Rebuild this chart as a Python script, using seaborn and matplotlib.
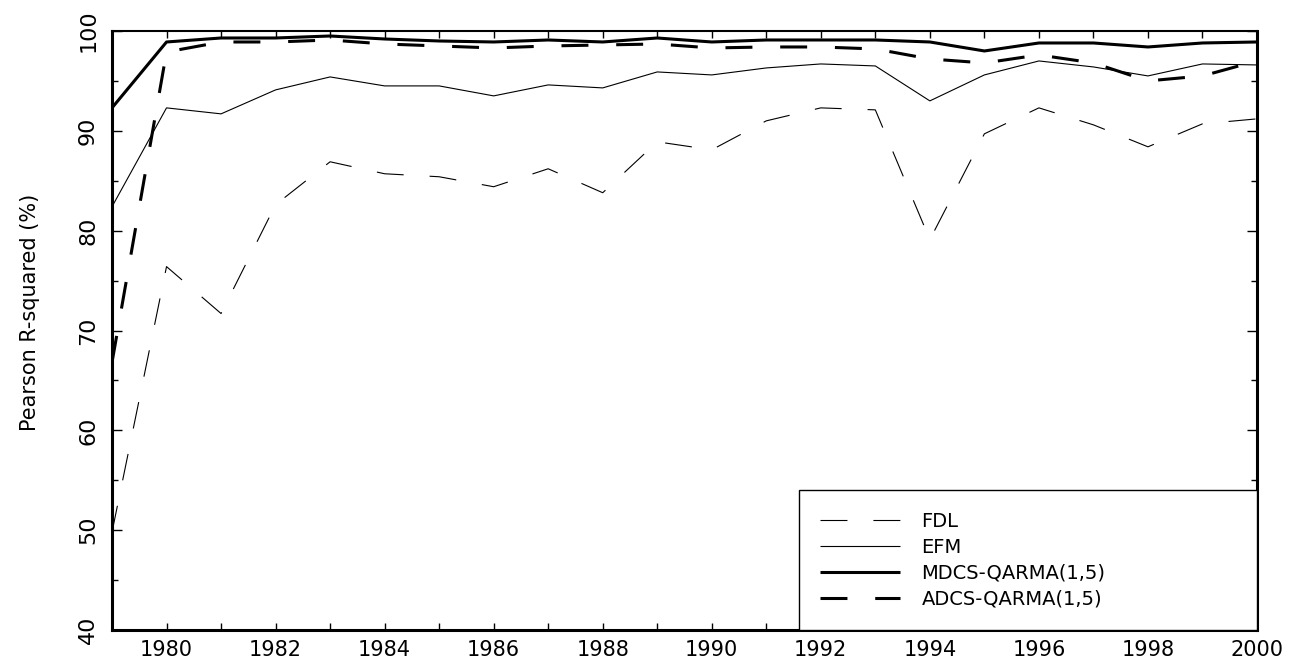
import matplotlib
matplotlib.use("Agg")
import matplotlib.pyplot as plt
import pandas as pd
import seaborn as sns
from matplotlib.ticker import MultipleLocator

years = list(range(1979, 2001))
fdl = [49.8, 76.4, 71.7, 82.6, 86.9, 85.7, 85.4, 84.4, 86.2, 83.8, 88.9,
       88.1, 91.0, 92.3, 92.1, 79.1, 89.7, 92.3, 90.6, 88.4, 90.7, 91.2]
efm = [82.4, 92.3, 91.7, 94.1, 95.4, 94.5, 94.5, 93.5, 94.6, 94.3, 95.9,
       95.6, 96.3, 96.7, 96.5, 93.0, 95.6, 97.0, 96.4, 95.5, 96.7, 96.6]
mdcs = [92.3, 98.9, 99.3, 99.3, 99.5, 99.2, 99.0, 98.9, 99.1, 98.9, 99.3,
        98.9, 99.1, 99.1, 99.1, 98.9, 98.0, 98.8, 98.8, 98.4, 98.8, 98.9]
adcs = [66.8, 97.9, 98.9, 98.9, 99.1, 98.7, 98.5, 98.3, 98.5, 98.6, 98.7,
        98.3, 98.4, 98.4, 98.2, 97.2, 96.8, 97.6, 96.8, 95.0, 95.5, 97.0]

series_names = ["FDL", "EFM", "MDCS-QARMA(1,5)", "ADCS-QARMA(1,5)"]
series_values = [fdl, efm, mdcs, adcs]

sns.set_style("ticks")
plt.rcParams["font.family"] = ["DejaVu Sans"]
plt.rcParams["lines.scale_dashes"] = False
for key in ["text.color", "axes.labelcolor", "xtick.color", "ytick.color",
            "xtick.labelcolor", "ytick.labelcolor"]:
    plt.rcParams[key] = "black"

fig = plt.figure(figsize=(13.03, 6.64), dpi=100)
ax = fig.add_axes([112 / 1303, 34 / 664, 1145 / 1303, 599 / 664])

styles = {
    "FDL": dict(lw=0.8, dashes=(19.4, 18.7)),
    "EFM": dict(lw=0.8, dashes=None),
    "MDCS-QARMA(1,5)": dict(lw=2.2, dashes=None),
    "ADCS-QARMA(1,5)": dict(lw=2.2, dashes=(19.4, 20.0)),
}

for name, vals in zip(series_names, series_values):
    df = pd.DataFrame({"year": years, "value": vals})
    sns.lineplot(data=df, x="year", y="value", ax=ax, color="black",
                 linewidth=styles[name]["lw"], label=name)
    line = ax.lines[-1]
    if styles[name]["dashes"] is not None:
        line.set_dashes(styles[name]["dashes"])
    line.set_solid_capstyle("butt")
    line.set_dash_capstyle("butt")

ax.set_xlim(1979, 2000)
ax.set_ylim(40, 100)
ax.xaxis.set_major_locator(MultipleLocator(2))
ax.xaxis.set_minor_locator(MultipleLocator(1))
ax.yaxis.set_major_locator(MultipleLocator(10))
ax.yaxis.set_minor_locator(MultipleLocator(5))
ax.set_xticks(range(1980, 2001, 2))

for side in ["left", "bottom", "right"]:
    ax.spines[side].set_linewidth(2.2)
ax.spines["top"].set_linewidth(1.5)
for s in ax.spines.values():
    s.set_color("black")

ax.tick_params(axis="x", which="both", direction="in", top=True, bottom=True,
               length=5, width=1, labelsize=15, pad=7, color="black",
               labelcolor="black")
ax.tick_params(axis="y", which="major", direction="in", left=True, right=True,
               length=7, width=1, labelsize=16, pad=10, color="black",
               labelcolor="black")
ax.tick_params(axis="y", which="minor", direction="in", left=True, right=True,
               length=4.5, width=1, color="black")
for lab in ax.get_yticklabels():
    lab.set_rotation(90)
    lab.set_va("center")

ax.set_xlabel("")
ax.set_ylabel("Pearson R-squared (%)", fontsize=15, color="black")
ax.yaxis.set_label_coords(-0.063, 0.53)

leg = ax.legend(loc="lower left", bbox_to_anchor=(0.6, 0.0, 0.4, 0.23),
                mode="expand", borderaxespad=0, fontsize=14, frameon=True,
                fancybox=False, framealpha=1, edgecolor="black",
                handlelength=4.1, handletextpad=1.1, labelspacing=0.36,
                borderpad=1.1)
leg.get_frame().set_linewidth(1.0)
for t in leg.get_texts():
    t.set_color("black")

fig.savefig("out.png", dpi=100, facecolor="white")
